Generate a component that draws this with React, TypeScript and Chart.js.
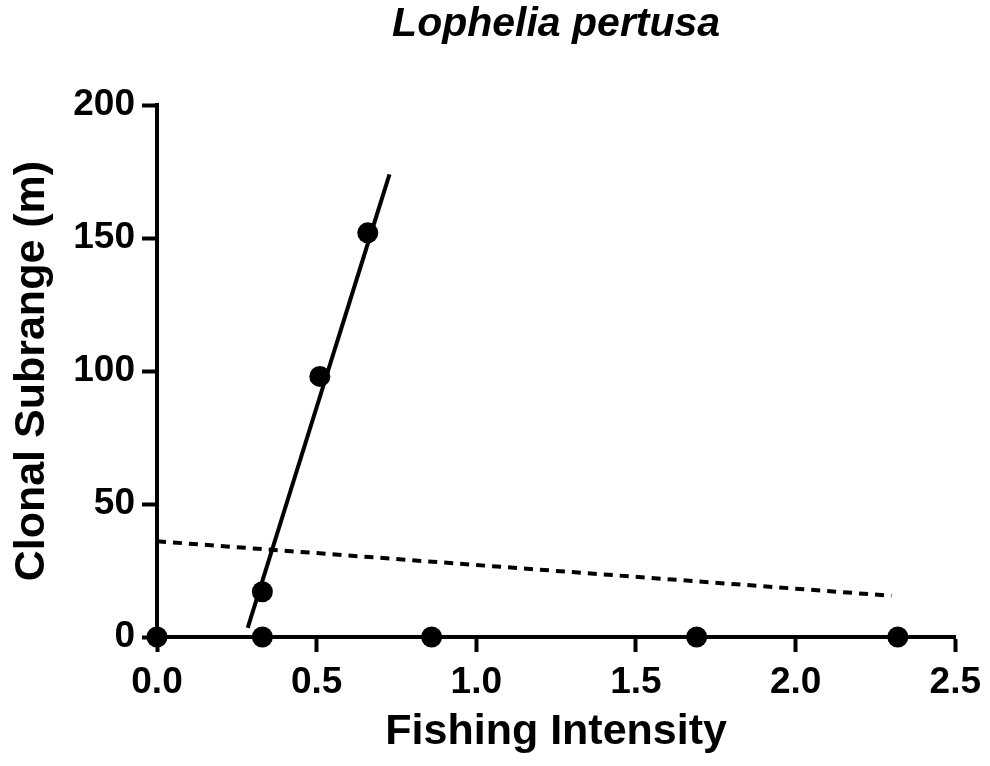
import React, { useEffect, useRef } from "react";
import { Chart, registerables } from "chart.js";

Chart.register(...registerables);

const chartTitle = "Lophelia pertusa";
const xAxisTitle = "Fishing Intensity";
const yAxisTitle = "Clonal Subrange (m)";

const pointX = [0, 0.33, 0.86, 1.69, 2.32, 0.33, 0.51, 0.66];
const pointY = [0, 0, 0, 0, 0, 17, 98, 152];

const solidFitX = [0.284, 0.728];
const solidFitY = [3.4, 174];

const dashedFitX = [0, 2.3];
const dashedFitY = [36, 15.5];

const xTickLabels = ["0.0", "0.5", "1.0", "1.5", "2.0", "2.5"];
const yTickLabels = ["0", "50", "100", "150", "200"];

const FONT = "'Liberation Sans', Arial, sans-serif";

export default function App() {
  const ref = useRef<HTMLCanvasElement>(null);

  useEffect(() => {
    document.body.style.margin = "0";
    const toXY = (xs: number[], ys: number[]) => xs.map((x, i) => ({ x, y: ys[i] }));
    const chart = new Chart(ref.current!, {
      type: "scatter",
      data: {
        datasets: [
          {
            data: toXY(pointX, pointY),
            pointRadius: 10.5,
            pointBackgroundColor: "#000",
            pointBorderWidth: 0,
            showLine: false,
            clip: false as any,
          },
          {
            data: toXY(solidFitX, solidFitY),
            showLine: true,
            borderColor: "#000",
            borderWidth: 4,
            pointRadius: 0,
            clip: false as any,
          },
          {
            data: toXY(dashedFitX, dashedFitY),
            showLine: true,
            borderColor: "#000",
            borderWidth: 4,
            borderDash: [9, 7],
            pointRadius: 0,
            clip: false as any,
          },
        ],
      },
      options: {
        responsive: false,
        animation: false,
        layout: { padding: { top: 0, right: 32, bottom: 0, left: 0 } },
        plugins: {
          legend: { display: false },
          tooltip: { enabled: false },
          title: {
            display: true,
            fullSize: false,
            text: chartTitle,
            color: "#000",
            font: { family: FONT, size: 41, weight: "bold", style: "italic" },
            padding: { top: 0, bottom: 56 },
          },
        },
        scales: {
          x: {
            type: "linear",
            min: 0,
            max: 2.5,
            afterFit: (s: any) => {
              s.height = 129;
            },
            ticks: {
              stepSize: 0.5,
              color: "#000",
              padding: 9,
              font: { family: FONT, size: 37, weight: "bold" },
              callback: (_v: any, i: number) => xTickLabels[i],
            },
            grid: {
              drawOnChartArea: false,
              drawTicks: true,
              tickLength: 15,
              tickWidth: 4,
              tickColor: "#000",
            },
            border: { display: true, width: 4, color: "#000" },
            title: {
              display: true,
              text: xAxisTitle,
              color: "#000",
              font: { family: FONT, size: 43, weight: "bold" },
              padding: { top: 0, bottom: 8 },
            },
          },
          y: {
            type: "linear",
            min: 0,
            max: 200,
            afterFit: (s: any) => {
              s.width = 157;
            },
            ticks: {
              stepSize: 50,
              color: "#000",
              padding: 7,
              font: { family: FONT, size: 37, weight: "bold" },
              callback: (_v: any, i: number) => yTickLabels[i],
            },
            grid: {
              drawOnChartArea: false,
              drawTicks: true,
              tickLength: 15,
              tickWidth: 4,
              tickColor: "#000",
            },
            border: { display: true, width: 4, color: "#000" },
            title: {
              display: true,
              text: yAxisTitle,
              color: "#000",
              font: { family: FONT, size: 43, weight: "bold" },
              padding: { top: 6, bottom: 0 },
            },
          },
        },
      },
    } as any);
    return () => chart.destroy();
  }, []);

  return (
    <div style={{ position: "absolute", left: 0, top: 0, width: 990, height: 766, background: "#fff" }}>
      <canvas ref={ref} width={990} height={766} style={{ width: 990, height: 766, display: "block" }} />
    </div>
  );
}
